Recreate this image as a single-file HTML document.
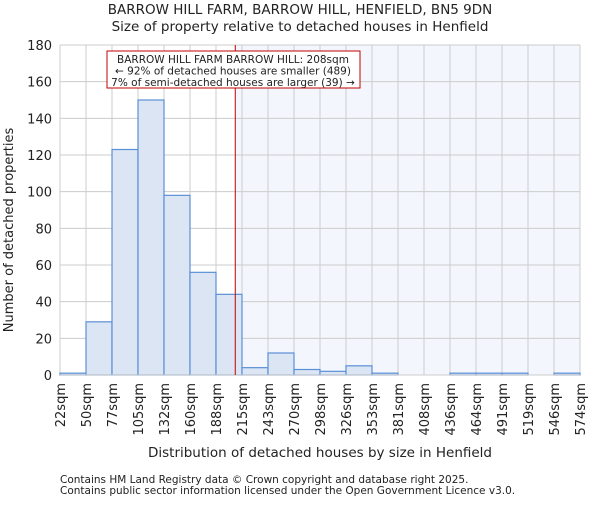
<!DOCTYPE html>
<html><head><meta charset="utf-8"><style>
body{margin:0;background:#fff;font-family:"Liberation Sans","DejaVu Sans",sans-serif}
svg text{font-family:"DejaVu Sans","Liberation Sans",sans-serif;fill:#222}
</style></head><body>
<svg id="chart" width="600" height="500" xmlns="http://www.w3.org/2000/svg">
<text x="300" y="14" text-anchor="middle" font-size="13.5">BARROW HILL FARM, BARROW HILL, HENFIELD, BN5 9DN</text>
<text x="300" y="31" text-anchor="middle" font-size="13.5">Size of property relative to detached houses in Henfield</text>
<text x="320" y="457" text-anchor="middle" font-size="13.5">Distribution of detached houses by size in Henfield</text>
<text transform="translate(13,230) rotate(-90)" text-anchor="middle" font-size="13">Number of detached properties</text>
<text x="60" y="483" font-size="10.5" fill="#444">Contains HM Land Registry data © Crown copyright and database right 2025.</text>
<text x="60" y="494" font-size="10.5" fill="#444">Contains public sector information licensed under the Open Government Licence v3.0.</text>
<g id="plot"></g>
</svg>
<script>
const binEdges=[22,50,77,105,132,160,188,215,243,270,298,326,353,381,408,436,464,491,519,546,574];
const counts=[1,29,123,150,98,56,44,4,12,3,2,5,1,0,0,1,1,1,0,1];
const yTicks=[0,20,40,60,80,100,120,140,160,180];
const markerValue=208;
const annotationLines=["BARROW HILL FARM BARROW HILL: 208sqm","← 92% of detached houses are smaller (489)","7% of semi-detached houses are larger (39) →"];
const X0=60,X1=580,Y0=375,Y1=45,NS="http://www.w3.org/2000/svg";
const nb=counts.length,bw=(X1-X0)/nb;
const yS=v=>Y0-(v-0)/(180)*(Y0-Y1);
const xIdx=i=>X0+i*bw;
function xVal(v){for(let i=0;i<binEdges.length-1;i++){if(v<=binEdges[i+1])return xIdx(i)+bw*(v-binEdges[i])/(binEdges[i+1]-binEdges[i]);}return X1;}
const g=document.getElementById('plot');
function mk(t,a){const e=document.createElementNS(NS,t);for(const k in a)e.setAttribute(k,a[k]);g.appendChild(e);return e;}
const mx=xVal(markerValue);
let e=mk('rect',{x:mx,y:Y1,width:X1-mx,height:Y0-Y1,fill:'#f3f6fd'});


yTicks.forEach(t=>{const y=yS(t);
 let l=mk('line',{x1:X0,x2:X1,y1:y,y2:y,stroke:'#ccc','stroke-width':1});
 
 
 let tx=mk('text',{x:X0-8,y:y+5,'text-anchor':'end','font-size':13});tx.textContent=t;
 
 
});
binEdges.forEach((b,i)=>{const x=xIdx(i);
 let l=mk('line',{x1:x,x2:x,y1:Y1,y2:Y0,stroke:'#ccc','stroke-width':1});
 
 
 let tx=mk('text',{transform:`translate(${x+5},${Y0+8}) rotate(-90)`,'text-anchor':'end','font-size':13});tx.textContent=b+'sqm';
 
 
});
counts.forEach((c,i)=>{if(c<=0)return;
 let r=mk('rect',{x:xIdx(i),y:yS(c),width:bw,height:Y0-yS(c),fill:'#dbe5f4',stroke:'#5b8fd6','stroke-width':1.2});
 
 
});
let ax=mk('line',{x1:X0,x2:X1,y1:Y0,y2:Y0,stroke:'#ccc','stroke-width':1});


let ml=mk('line',{x1:mx,x2:mx,y1:Y1,y2:Y0,stroke:'#c00000','stroke-width':1});


let box=mk('rect',{x:107,y:51,width:253,height:37,fill:'#fff',stroke:'#c00000','stroke-width':1});


annotationLines.forEach((s,i)=>{let t=mk('text',{x:233,y:63+i*11.5,'text-anchor':'middle','font-size':10.5});t.textContent=s;
 
 });
</script>
</body></html>
